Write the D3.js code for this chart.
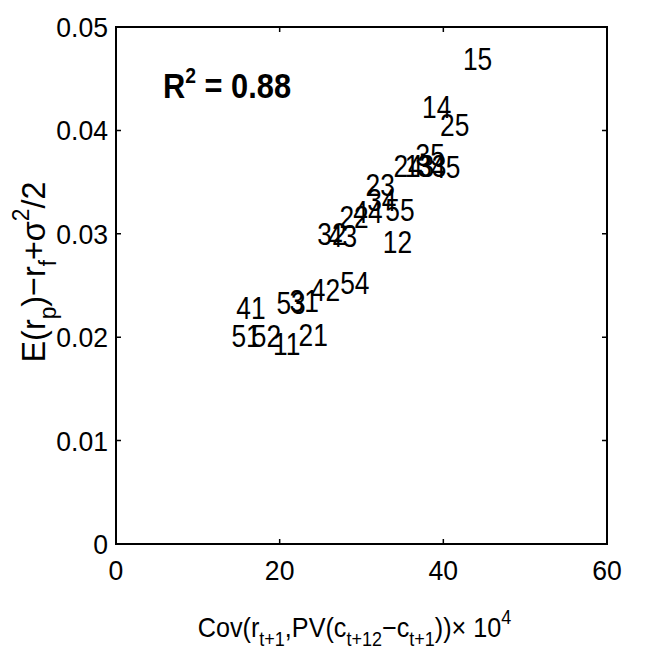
<!DOCTYPE html>
<html lang="en">
<head>
<meta charset="UTF-8">
<title>Cov vs premium</title>
<style>
  body { margin: 0; background: #fff; }
  svg { display: block; font-family: "Liberation Sans", Arial, sans-serif; }
  text { fill: #000; }
</style>
</head>
<body>
<div id="chart"></div>
<script src="https://d3js.org/d3.v7.min.js"></script>
<script>
  // portfolio labels (size/value 1..5) and where they sit
  var labels = ["15", "14", "25", "35", "45", "24", "13", "33", "23", "34", "55", "44", "22",
                "32", "43", "12", "54", "42", "31", "53", "41", "51", "52", "11", "21"];
  var covX = [42.4, 37.4, 39.6, 36.6, 38.5, 33.9, 35.3, 36.8, 30.5, 30.7, 32.9, 29.0, 27.3,
              24.6, 25.9, 32.6, 27.4, 23.8, 21.2, 19.6, 14.7, 14.1, 16.6, 19.2, 22.3];
  var premY = [0.0469, 0.0423, 0.0405, 0.0376, 0.0365, 0.0366, 0.0366, 0.0366, 0.0347, 0.0333, 0.0323, 0.0321, 0.0316,
               0.0300, 0.0298, 0.0292, 0.0253, 0.0246, 0.0235, 0.0233, 0.0228, 0.0201, 0.0201, 0.0194, 0.0202];

  var xTicks = [0, 20, 40, 60];
  var yTicks = [0, 0.01, 0.02, 0.03, 0.04, 0.05];
  var yTickLabels = ["0", "0.01", "0.02", "0.03", "0.04", "0.05"];
  var rSquared = "0.88";

  var W = 658, H = 659;
  var margin = {top: 27, right: 51, bottom: 115, left: 116};
  var width = W - margin.left - margin.right,
      height = H - margin.top - margin.bottom;

  var x = d3.scaleLinear().domain([0, 60]).range([0, width]);
  var y = d3.scaleLinear().domain([0, 0.05]).range([height, 0]);

  var svg = d3.select("#chart").append("svg")
      .attr("width", W)
      .attr("height", H)
    .append("g")
      .attr("transform", "translate(" + margin.left + "," + margin.top + ")");

  // box
  svg.append("rect")
      .attr("width", width)
      .attr("height", height)
      .attr("fill", "none")
      .attr("stroke", "#000")
      .attr("stroke-width", 2);

  // inward ticks on all four sides
  var tickLen = 5;
  svg.selectAll(".xt").data(xTicks.slice(1, -1)).enter().append("path")
      .attr("d", function(d) {
        return "M" + x(d) + "," + height + "v" + (-tickLen) + "M" + x(d) + ",0v" + tickLen;
      })
      .attr("stroke", "#000").attr("stroke-width", 1.5);
  svg.selectAll(".yt").data(yTicks.slice(1, -1)).enter().append("path")
      .attr("d", function(d) {
        return "M0," + y(d) + "h" + tickLen + "M" + width + "," + y(d) + "h" + (-tickLen);
      })
      .attr("stroke", "#000").attr("stroke-width", 1.5);

  svg.selectAll(".xl").data(xTicks).enter().append("text")
      .attr("transform", function(d) { return "translate(" + x(d) + "," + (height + 36) + ") scale(0.95,1)"; })
      .attr("text-anchor", "middle")
      .style("font-size", "28px")
      .text(function(d) { return d; });

  svg.selectAll(".yl").data(yTicks).enter().append("text")
      .attr("transform", function(d) { return "translate(-8," + y(d) + ") scale(0.95,1)"; })
      .attr("text-anchor", "end")
      .attr("dy", "0.36em")
      .style("font-size", "28px")
      .text(function(d, i) { return yTickLabels[i]; });

  // portfolio numbers as the markers
  svg.selectAll(".pt").data(labels).enter().append("text")
      .attr("class", "pt")
      .attr("transform", function(d, i) { return "translate(" + x(covX[i]) + "," + y(premY[i]) + ") scale(0.85,1)"; })
      .attr("dy", "0.36em")
      .style("font-size", "31px")
      .text(function(d) { return d; });

  // R^2
  var r2 = svg.append("text")
      .attr("transform", "translate(47,71) scale(0.88,1)")
      .style("font-size", "35px")
      .style("font-weight", "bold");
  r2.append("tspan").text("R");
  r2.append("tspan").attr("dy", -15).style("font-size", "22px").text("2");
  r2.append("tspan").attr("dy", 15).text(" = " + rSquared);

  // tex-like sub/superscripts
  function addRuns(t, runs, big, small) {
    var shift = 0;
    runs.forEach(function(r) {
      var off = r[1] === "sub" ? big * 0.32 : r[1] === "sup" ? -big * 0.46 : 0;
      t.append("tspan")
          .attr("dy", off - shift)
          .style("font-size", (r[1] ? small : big) + "px")
          .text(r[0]);
      shift = off;
    });
  }

  var xlab = svg.append("text")
      .attr("transform", "translate(" + (width / 2 - 7) + "," + (height + 93) + ") scale(0.9,1)")
      .attr("text-anchor", "middle");
  addRuns(xlab, [["Cov(r"], ["t+1", "sub"], [",PV(c"], ["t+12", "sub"], ["\u2212c"], ["t+1", "sub"],
                 ["))\u00d7 10"], ["4", "sup"]], 28, 20);

  var ylab = svg.append("text")
      .attr("transform", "translate(-71,245) rotate(-90) scale(0.95,1)")
      .attr("text-anchor", "middle");
  addRuns(ylab, [["E(r"], ["p", "sub"], [")\u2212r"], ["f", "sub"], ["+\u03c3"], ["2", "sup"], ["/2"]], 34, 24);
</script>
</body>
</html>
